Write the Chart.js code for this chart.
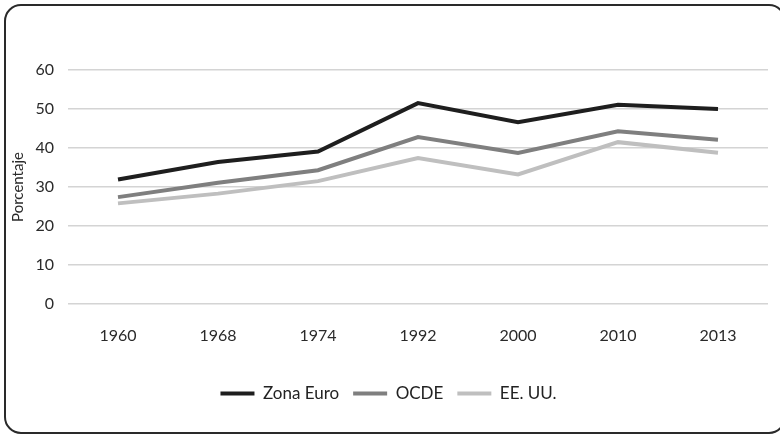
<!DOCTYPE html>
<html>
<head>
<meta charset="utf-8">
<script src="https://cdn.jsdelivr.net/npm/chart.js@4.4.1/dist/chart.umd.min.js"></script>
<style>
  html, body { margin: 0; padding: 0; background: #fff; }
  #wrap { position: relative; width: 780px; height: 438px; overflow: hidden; }
  #frame {
    position: absolute; left: 4px; top: 4px; width: 782px; height: 430px;
    border: 2px solid #2a2a2a; border-radius: 17px; box-sizing: border-box;
  }
  canvas { position: absolute; left: 0; top: 0; }
</style>
</head>
<body>
<div id="wrap">
  <canvas id="chart" width="780" height="438"></canvas>
  <div id="frame"></div>
</div>
<script>
// datos
const years = ['1960', '1968', '1974', '1992', '2000', '2010', '2013'];
const zonaEuro = [31.9, 36.4, 39.1, 51.5, 46.6, 51.1, 50.0];
const ocde = [27.4, 31.1, 34.3, 42.8, 38.7, 44.3, 42.1];
const eeuu = [25.8, 28.3, 31.5, 37.4, 33.2, 41.5, 38.8];
const yTicks = [0, 10, 20, 30, 40, 50, 60];

const font = "'Lato', 'Open Sans', sans-serif";

function serie(label, data, color) {
    return {
        label: label,
        data: data,
        borderColor: color,
        backgroundColor: color,
        borderWidth: 4,
        pointRadius: 0,
        tension: 0,
        fill: false
    };
}

new Chart(document.getElementById('chart'), {
    type: 'line',
    data: {
        labels: years,
        datasets: [
            serie('Zona Euro', zonaEuro, '#1e1e1e'),
            serie('OCDE', ocde, '#7f7f7f'),
            serie('EE. UU.', eeuu, '#bfbfbf')
        ]
    },
    options: {
        responsive: false,
        animation: false,
        layout: { padding: { left: 9, right: 12, top: 70, bottom: 26 } },
        plugins: {
            tooltip: { enabled: false },
            legend: {
                position: 'bottom',
                labels: {
                    color: '#222',
                    font: { family: font, size: 17 },
                    usePointStyle: true,
                    pointStyle: 'line',
                    pointStyleWidth: 34,
                    padding: 14
                }
            }
        },
        scales: {
            x: {
                offset: true,
                grid: { display: false },
                border: { display: false },
                ticks: { color: '#2a2a2a', font: { family: font, size: 16 }, padding: 14 },
                afterFit: function (s) { s.height = 67; }
            },
            y: {
                min: 0,
                max: 60,
                afterBuildTicks: function (s) { s.ticks = yTicks.map(v => ({ value: v })); },
                grid: { color: '#d4d4d4', lineWidth: 1.5, drawTicks: false },
                border: { display: false },
                ticks: { color: '#2a2a2a', font: { family: font, size: 16 }, padding: 14 },
                title: {
                    display: true,
                    text: 'Porcentaje',
                    color: '#2a2a2a',
                    font: { family: font, size: 15 },
                    padding: 0
                },
                afterFit: function (s) { s.width = 59; }
            }
        }
    }
});
</script>
</body>
</html>
